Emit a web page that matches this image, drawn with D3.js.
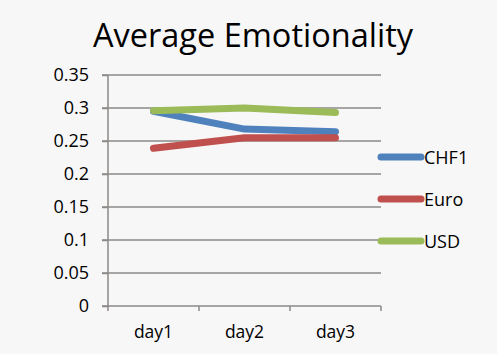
<!DOCTYPE html>
<html>
<head>
<meta charset="utf-8">
<script src="https://cdn.jsdelivr.net/npm/d3@7"></script>
<style>
  body { margin:0; background:#f8f7f7; }
  text { font-family: "Open Sans", "Liberation Sans", sans-serif; fill:#000; }
</style>
</head>
<body>
<div id="chart-area"></div>
<script>
// data
var days = ["day1", "day2", "day3"];
var chf1 = [0.295, 0.268, 0.264];
var euro = [0.239, 0.255, 0.255];
var usd = [0.296, 0.300, 0.293];
var seriesNames = ["CHF1", "Euro", "USD"];
var yTicks = [0, 0.05, 0.1, 0.15, 0.2, 0.25, 0.3, 0.35];

var colors = ["#4f81bd", "#c0504d", "#9bbb59"];
var series = [chf1, euro, usd];

var margin = { top:75, right:116, bottom:48, left:108 };
var width = 497 - margin.left - margin.right;
var height = 354 - margin.top - margin.bottom;

var svg = d3.select("#chart-area").append("svg")
  .attr("width", 497)
  .attr("height", 354);

var g = svg.append("g")
  .attr("transform", "translate("+margin.left+","+margin.top+")");

// scales
var x = d3.scaleBand().domain(days).range([0, width]);
var y = d3.scaleLinear().domain([0, 0.35]).range([height, 0]);

// gridlines
g.selectAll(".grid")
  .data(yTicks.slice(1))
  .enter().append("line")
    .attr("x1", -6).attr("x2", width)
    .attr("y1", function(d){ return y(d); })
    .attr("y2", function(d){ return y(d); })
    .attr("stroke", "#8c8a88")
    .attr("stroke-width", 1.5);

// y axis
var yAxis = g.append("g")
  .call(d3.axisLeft(y).tickValues(yTicks).tickSize(6).tickPadding(13)
    .tickFormat(function(d){ return d3.format("")(+d.toFixed(2)); }));
yAxis.attr("font-size", null).attr("font-family", null);
yAxis.select(".domain").remove();
yAxis.selectAll("line").attr("stroke", "#8c8a88").attr("stroke-width", 1.5);
yAxis.selectAll("text").attr("font-size", "18px").attr("fill", "#000");
g.append("line")
  .attr("x1", 0).attr("x2", 0).attr("y1", 0).attr("y2", height)
  .attr("stroke", "#8c8a88").attr("stroke-width", 1.5);

// x axis
var xAxisGroup = g.append("g")
  .attr("transform", "translate(0,"+height+")");
xAxisGroup.append("line")
  .attr("x1", -6).attr("x2", width).attr("stroke", "#8c8a88").attr("stroke-width", 1.5);
var xTicks = days.map(function(d){ return x(d); }).concat([width]);
xAxisGroup.selectAll(".xt")
  .data(xTicks)
  .enter().append("line")
    .attr("x1", function(d){ return d; }).attr("x2", function(d){ return d; })
    .attr("y1", 0).attr("y2", 5)
    .attr("stroke", "#8c8a88").attr("stroke-width", 1.5);
xAxisGroup.selectAll(".xl")
  .data(days)
  .enter().append("text")
    .attr("x", function(d){ return x(d) + x.bandwidth()/2; })
    .attr("y", 32)
    .attr("text-anchor", "middle")
    .attr("font-size", "17.5px")
    .text(function(d){ return d; });

// lines
var line = d3.line()
  .x(function(d, i){ return x(days[i]) + x.bandwidth()/2; })
  .y(function(d){ return y(d); });

g.selectAll(".series")
  .data(series)
  .enter().append("path")
    .attr("d", line)
    .attr("fill", "none")
    .attr("stroke", function(d, i){ return colors[i]; })
    .attr("stroke-width", 7)
    .attr("stroke-linecap", "round")
    .attr("stroke-linejoin", "round");

// legend
var legend = svg.selectAll(".legend")
  .data(seriesNames)
  .enter().append("g")
    .attr("transform", function(d, i){ return "translate(381,"+(157 + i*42)+")"; });
legend.append("line")
  .attr("x1", 0).attr("x2", 40)
  .attr("stroke", function(d, i){ return colors[i]; })
  .attr("stroke-width", 7)
  .attr("stroke-linecap", "round");
legend.append("text")
  .attr("x", 43).attr("y", 7)
  .attr("font-size", "18px")
  .text(function(d){ return d; });

// title
svg.append("text")
  .attr("x", 253).attr("y", 47)
  .attr("text-anchor", "middle")
  .attr("font-size", "32.5px")
  .text("Average Emotionality");
</script>
</body>
</html>
